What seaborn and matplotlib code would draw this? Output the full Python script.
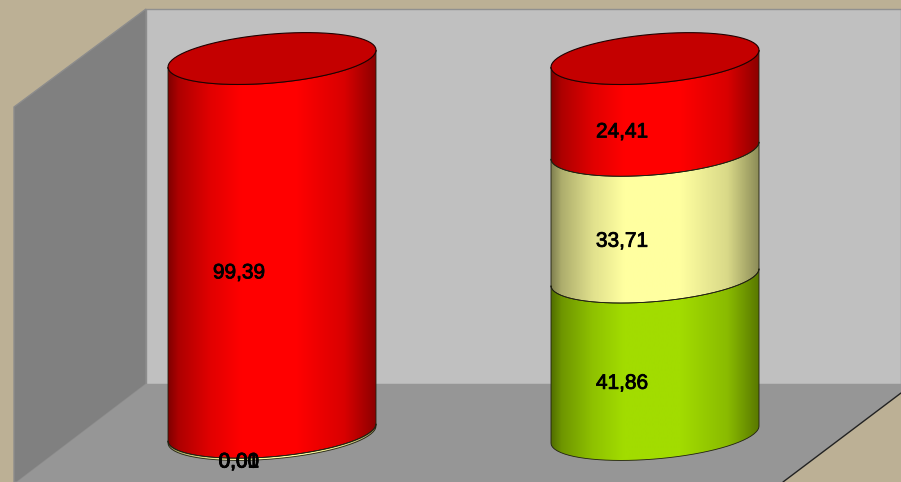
import numpy as np
import pandas as pd
import matplotlib
matplotlib.use('Agg')
import matplotlib.pyplot as plt
import matplotlib.patheffects as pe
import seaborn as sns
from matplotlib.colors import LinearSegmentedColormap, to_rgb
from matplotlib.patches import PathPatch, Polygon
from matplotlib.path import Path

categories = ['A', 'B']
levels = ['verde', 'giallo', 'rosso']
verde = [0.00, 41.86]
giallo = [0.01, 33.71]
rosso = [99.39, 24.41]

colors = {'verde': '#A2DC00', 'giallo': '#FFFFA0', 'rosso': '#FF0000'}
top_color = '#C40000'
min_visible = 0.6  # tiny segments still show as a sliver

W, H = 901, 482
PX_X = 383.0   # pixels between the two columns
PX_Y = 3.76    # pixels per value unit
ZERO_Y = 434.5
LEFT_X = 272.0
BAR_PX = 208.0


def px(x, y):
    return (x / W, 1 - y / H)


def shade_cmap(color):
    r = np.array(to_rgb(color))
    stops = [(0.0, 0.5), (0.05, 0.68), (0.2, 0.88), (0.35, 1.0), (0.62, 1.0), (0.85, 0.85), (1.0, 0.55)]
    return LinearSegmentedColormap.from_list('c', [(t, tuple(r * s)) for t, s in stops])


def arc(xc, yc, half, start, stop):
    t = np.linspace(start, stop, 80)
    xs = xc + half * np.cos(t)
    ys = yc + b * np.sin(t) + shear * np.cos(t)
    return np.column_stack([xs, ys])


sns.set_theme(style='white')
plt.rcParams['font.family'] = ['Liberation Sans', 'DejaVu Sans']

fig = plt.figure(figsize=(W / 100, H / 100), dpi=100)
fig.patch.set_facecolor('#BCB095')
ax = fig.add_axes([0, 0, 1, 1])

# the room behind the columns
room = [
    ([(146, 9), (901, 9), (901, 384), (146, 384)], '#C0C0C0', '#909090'),
    ([(146, 9), (146, 384), (17, 482), (14, 482), (14, 107)], '#808080', '#8C8C8C'),
    ([(146, 384), (901, 384), (901, 393), (783, 482), (17, 482)], '#969696', 'none'),
]
for pts, face, edge in room:
    ax.add_patch(Polygon([px(*p) for p in pts], closed=True, facecolor=face, edgecolor=edge,
                         lw=1, transform=ax.transAxes, zorder=1))
ax.plot(*zip(px(901, 393), px(783, 482)), color='#222222', lw=1, transform=ax.transAxes, zorder=2)

# cumulative tops, seaborn draws them and sets the scales
shown = {'verde': verde, 'giallo': np.maximum(giallo, min_visible), 'rosso': rosso}
tops = np.cumsum([shown[l] for l in levels], axis=0)
df = pd.DataFrame({
    'colonna': categories * len(levels),
    'livello': np.repeat(levels, len(categories)),
    'cima': tops.ravel(),
})
sns.barplot(data=df, x='colonna', y='cima', hue='livello', dodge=False, legend=False,
            width=BAR_PX / PX_X, palette=colors, ax=ax, errorbar=None)

xlim = (-LEFT_X / PX_X, (W - LEFT_X) / PX_X)
ylim = ((ZERO_Y - H) / PX_Y, ZERO_Y / PX_Y)

b = 24.5 / PX_Y
shear = 8.5 / PX_Y

lower = [0.0, 0.0]
for level, container in zip(levels, ax.containers):
    cmap = shade_cmap(colors[level])
    for i, bar in enumerate(container):
        bar.set_visible(False)
        half = bar.get_width() / 2
        xc = bar.get_x() + half
        y0 = lower[i]
        y1 = bar.get_height()
        lower[i] = y1
        if y1 - y0 <= 0:
            continue
        # front face: lower arc left to right, upper arc back
        low = arc(xc, y0, half, np.pi, 2 * np.pi)
        up = arc(xc, y1, half, 2 * np.pi, np.pi)
        side = Path(np.vstack([low, up, low[:1]]))
        im = ax.imshow(np.linspace(0, 1, 256).reshape(1, -1), cmap=cmap, aspect='auto', zorder=4,
                       extent=(xc - half, xc + half, y0 - 40, y1 + 40), interpolation='bilinear')
        im.set_clip_path(PathPatch(side, transform=ax.transData))
        ax.add_patch(PathPatch(side, facecolor='none', edgecolor='#202010', lw=0.6, zorder=5))

        if level == 'rosso':
            full = arc(xc, y1, half, 0, 2 * np.pi)
            ax.add_patch(Polygon(full, closed=True, facecolor=top_color, edgecolor='#200000',
                                 lw=0.8, zorder=6))

# value labels sit on the front face, left of the column axis
starts = np.vstack([np.zeros(len(categories)), tops[:-1]])
for j, values in enumerate([verde, giallo, rosso]):
    for i, v in enumerate(values):
        mid = starts[j][i] + v / 2
        ax.text(i - 33 / PX_X, mid - 27.5 / PX_Y, f'{v:.2f}'.replace('.', ','), ha='center', va='center',
                fontsize=15, color='black', zorder=8,
                path_effects=[pe.withStroke(linewidth=0.6, foreground='black')])

ax.set_xlim(*xlim)
ax.set_ylim(*ylim)
ax.set_axis_off()

fig.savefig('out.png', dpi=100)
